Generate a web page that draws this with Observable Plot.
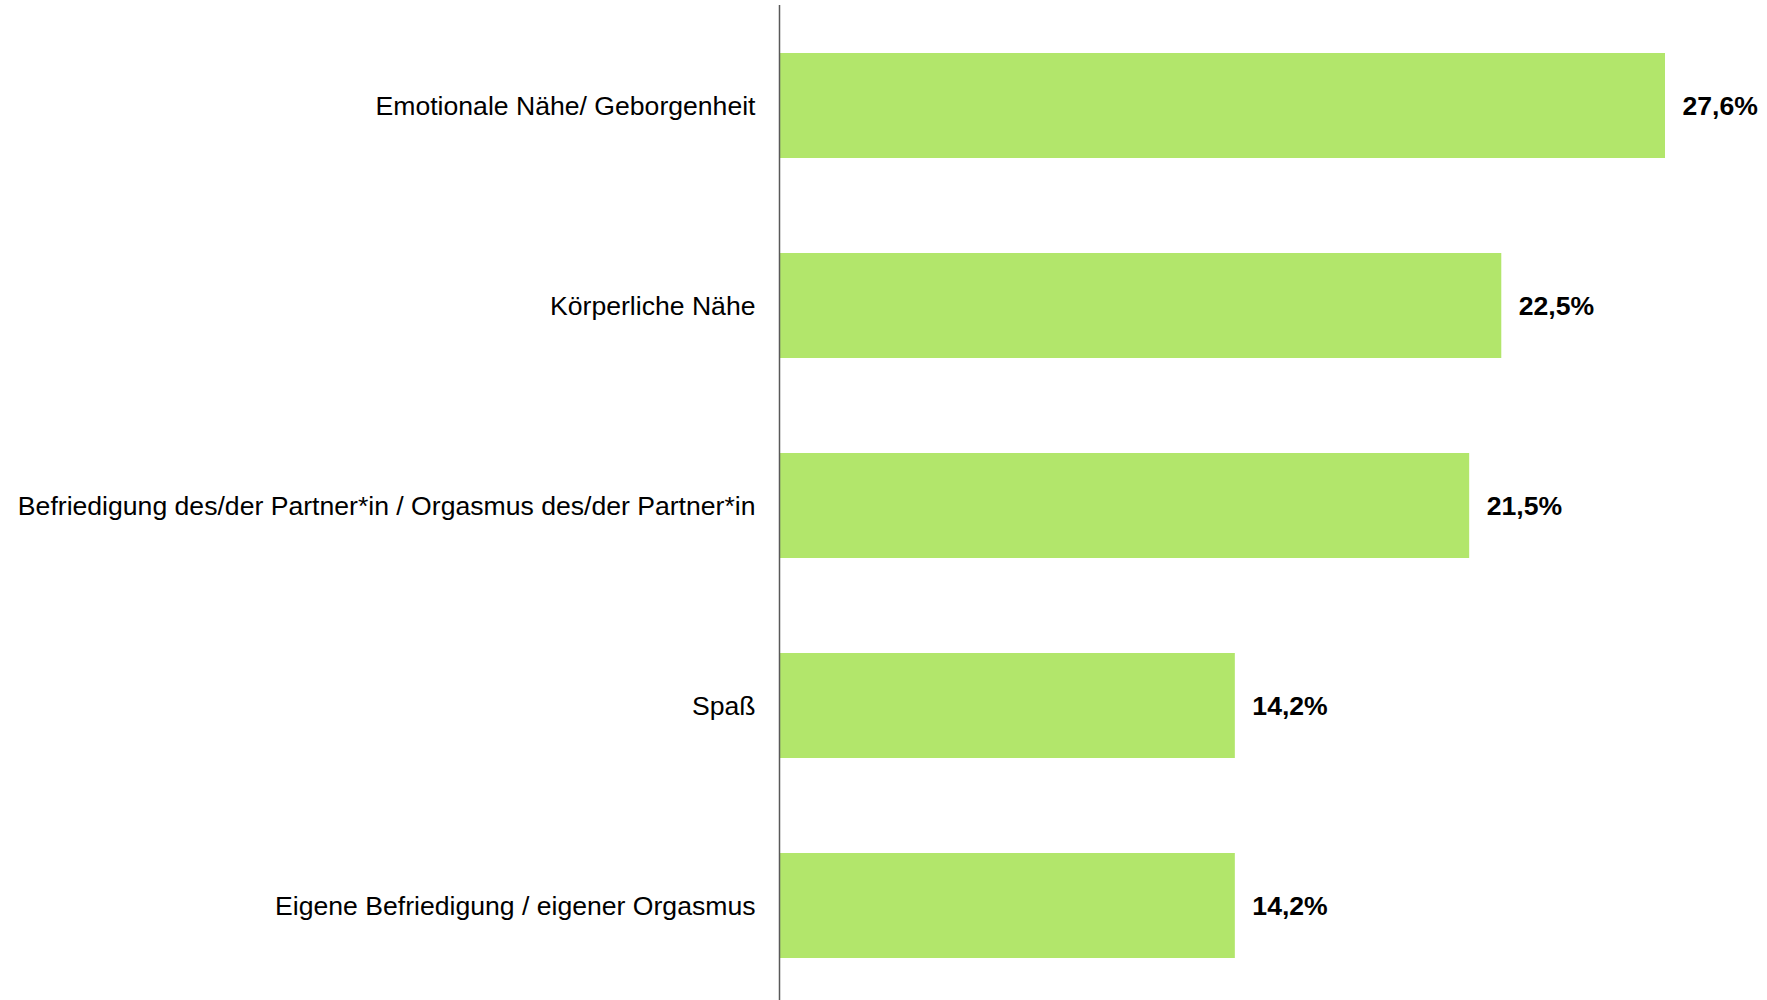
<!DOCTYPE html>
<html>
<head>
<meta charset="utf-8">
<script src="https://cdn.jsdelivr.net/npm/d3@7"></script>
<script src="https://cdn.jsdelivr.net/npm/@observablehq/plot@0.6"></script>
<style>
  html, body { margin: 0; padding: 0; background: #fff; }
  #chart { width: 1767px; height: 1000px; }
</style>
</head>
<body>
<div id="chart"></div>
<script>
const categories = [
  "Emotionale Nähe/ Geborgenheit",
  "Körperliche Nähe",
  "Befriedigung des/der Partner*in / Orgasmus des/der Partner*in",
  "Spaß",
  "Eigene Befriedigung / eigener Orgasmus"
];
const values = [27.6, 22.5, 21.5, 14.2, 14.2];

const data = categories.map((c, i) => ({category: c, value: values[i]}));
const fmt = v => v.toFixed(1).replace(".", ",") + "%";

const chart = Plot.plot({
  width: 1767,
  height: 1000,
  marginLeft: 779,
  marginRight: 102,
  marginTop: 5,
  marginBottom: 0,
  style: {fontFamily: "'Liberation Sans', Arial, sans-serif", background: "#fff", color: "#000"},
  x: {domain: [0, 27.6], axis: null},
  y: {domain: categories, range: [6, 1006], paddingInner: 0.475, paddingOuter: 0.2375, label: null},
  marks: [
    Plot.barX(data, {x: "value", y: "category", fill: "#b2e66b"}),
    Plot.ruleX([0], {stroke: "#595959", strokeWidth: 1.5}),
    Plot.axisY({tickSize: 0, tickPadding: 24, fontSize: 26.6, label: null, fill: "#000"}),
    Plot.text(data, {
      x: "value", y: "category", text: d => fmt(d.value),
      textAnchor: "start", dx: 17, fontSize: 26.6, fontWeight: "bold", fill: "#000"
    })
  ]
});
document.getElementById("chart").appendChild(chart);
</script>
</body>
</html>
